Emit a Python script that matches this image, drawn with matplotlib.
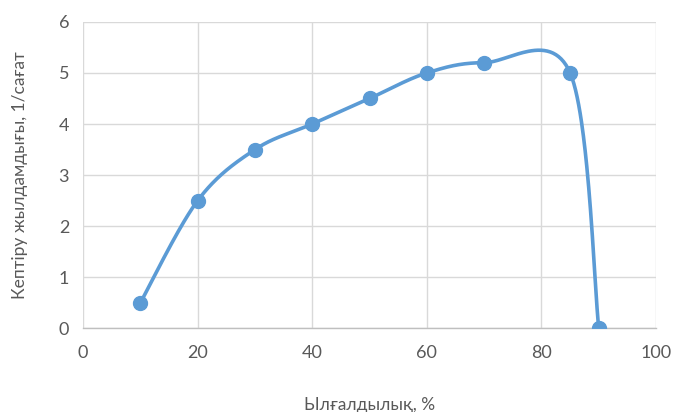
import numpy as np
import matplotlib
matplotlib.use("Agg")
import matplotlib.pyplot as plt

x_vals = [10, 20, 30, 40, 50, 60, 70, 85, 90]
y_vals = [0.5, 2.5, 3.5, 4.0, 4.5, 5.0, 5.2, 5.0, 0.0]
x_ticks = [0, 20, 40, 60, 80, 100]
y_ticks = [0, 1, 2, 3, 4, 5, 6]
x_label = "Ылғалдылық, %"
y_label = "Кептіру жылдамдығы, 1/сағат"

color = "#5B9BD5"
plt.rcParams['font.family'] = ['Lato', 'DejaVu Sans']

def excel_smooth(xs, ys, t=1/6, n=60):
    P = np.column_stack([xs, ys]).astype(float)
    m = len(P)
    out = []
    for i in range(m - 1):
        p0 = P[i - 1] if i > 0 else P[i]
        p1 = P[i]
        p2 = P[i + 1]
        p3 = P[i + 2] if i + 2 < m else P[i + 1]
        c1 = p1 + (p2 - p0) * t
        c2 = p2 - (p3 - p1) * t
        s = np.linspace(0, 1, n)[:, None]
        seg = ((1 - s) ** 3) * p1 + 3 * ((1 - s) ** 2) * s * c1 + 3 * (1 - s) * s ** 2 * c2 + s ** 3 * p2
        out.append(seg if i == 0 else seg[1:])
    c = np.vstack(out)
    return c[:, 0], c[:, 1]

fig = plt.figure(figsize=(6.75, 4.12), dpi=100)
ax = fig.add_axes([0.123, 0.203, 0.849, 0.744])
sx, sy = excel_smooth(x_vals, y_vals)
ax.plot(sx, sy, color=color, lw=2.6, solid_capstyle='round', zorder=3)
ax.plot(x_vals, y_vals, 'o', color=color, ms=10, zorder=4)

ax.set_xlim(0, 100)
ax.set_ylim(0, 6)
ax.set_xticks(x_ticks)
ax.set_yticks(y_ticks)
ax.grid(True, color="#D9D9D9", lw=1.0)
ax.set_axisbelow(True)
for s in ['top', 'right', 'left']:
    ax.spines[s].set_visible(False)
ax.spines['bottom'].set_color("#BFBFBF")
ax.spines['bottom'].set_linewidth(1.0)
ax.tick_params(length=0, labelsize=13, labelcolor="#595959", pad=12)
ax.tick_params(axis='y', pad=10)
ax.set_xlabel(x_label, fontsize=12.5, color="#595959", labelpad=26)
ax.set_ylabel(y_label, fontsize=12.5, color="#595959", labelpad=22)

fig.savefig("out.png", dpi=100)
